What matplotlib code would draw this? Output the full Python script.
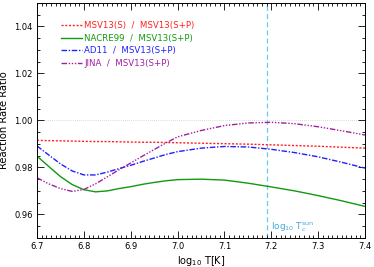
import numpy as np
import matplotlib
matplotlib.use('Agg')
import matplotlib.pyplot as plt
from matplotlib.ticker import MultipleLocator

plt.rcParams['font.family'] = ['DejaVu Sans']

logT = [6.700, 6.725, 6.750, 6.775, 6.800, 6.825, 6.850, 6.875, 6.900, 6.925, 6.950, 6.975,
        7.000, 7.050, 7.100, 7.150, 7.200, 7.250, 7.300, 7.350, 7.400]
msv_s = [0.9915, 0.9914, 0.9913, 0.9912, 0.9911, 0.9910, 0.9910, 0.9909, 0.9908, 0.9907, 0.9907,
         0.9906, 0.9905, 0.9903, 0.9901, 0.9899, 0.9896, 0.9893, 0.9890, 0.9886, 0.9882]
nacre = [0.9848, 0.9804, 0.9761, 0.9727, 0.9705, 0.9696, 0.9700, 0.9710, 0.9718, 0.9728, 0.9736,
         0.9743, 0.9748, 0.9750, 0.9746, 0.9733, 0.9717, 0.9700, 0.9680, 0.9658, 0.9634]
ad11 = [0.9891, 0.9853, 0.9815, 0.9785, 0.9768, 0.9768, 0.9780, 0.9795, 0.9809, 0.9825, 0.9840,
        0.9855, 0.9867, 0.9882, 0.9889, 0.9887, 0.9877, 0.9863, 0.9845, 0.9822, 0.9797]
jina = [0.9756, 0.9730, 0.9710, 0.9698, 0.9706, 0.9730, 0.9760, 0.9790, 0.9819, 0.9848, 0.9876,
        0.9904, 0.9930, 0.9957, 0.9978, 0.9989, 0.9992, 0.9986, 0.9973, 0.9956, 0.9938]
labels = ['MSV13(S)  /  MSV13(S+P)', 'NACRE99  /  MSV13(S+P)',
          'AD11  /  MSV13(S+P)', 'JINA  /  MSV13(S+P)']
colors = ['#ff2020', '#109a10', '#2020ff', '#a020a0']
log_tc = 7.19

fig = plt.figure(figsize=(3.74, 2.67), dpi=100)
ax = fig.add_axes([0.099, 0.109, 0.877, 0.880])

ax.axhline(1.0, color='#cccccc', lw=0.6, ls=(0, (1, 1.5)), zorder=1)
ax.axvline(log_tc, color='#66ccee', lw=0.9, ls=(0, (4, 2.5)), zorder=1)

styles = [(0, (1.5, 1.2)), '-', (0, (4, 1.2, 1, 1.2)), (0, (4, 1.2, 1, 1.2, 1, 1.2, 1, 1.2))]
for y, lab, c, s in zip([msv_s, nacre, ad11, jina], labels, colors, styles):
    ax.plot(logT, y, color=c, ls=s, lw=1.0, label=lab)

leg = ax.legend(loc='upper left', bbox_to_anchor=(0.05, 0.955), frameon=False,
                fontsize=6.2, handlelength=2.4, handletextpad=0.3, labelspacing=0.42)
for t, c in zip(leg.get_texts(), colors):
    t.set_color(c)

ax.text(7.2, 0.9535, r'log$_{10}$ T$_c^{\rm sun}$', color='#44aadd', fontsize=6.5)

ax.set_xlim(6.7, 7.4)
ax.set_ylim(0.95, 1.05)
ax.xaxis.set_major_locator(MultipleLocator(0.1))
ax.xaxis.set_minor_locator(MultipleLocator(0.01))
ax.yaxis.set_major_locator(MultipleLocator(0.02))
ax.yaxis.set_minor_locator(MultipleLocator(0.005))
ax.tick_params(which='both', direction='in', top=True, right=True, labelsize=6, width=0.6)
ax.tick_params(which='major', length=5, pad=3)
ax.tick_params(which='minor', length=2.5)
for sp in ax.spines.values():
    sp.set_linewidth(0.7)

ax.set_xlabel(r'log$_{10}$ T[K]', fontsize=7, labelpad=2)
ax.set_ylabel('Reaction Rate Ratio', fontsize=7.2)
ax.yaxis.set_label_coords(-0.085, 0.5)

fig.savefig('out.png', dpi=100)
